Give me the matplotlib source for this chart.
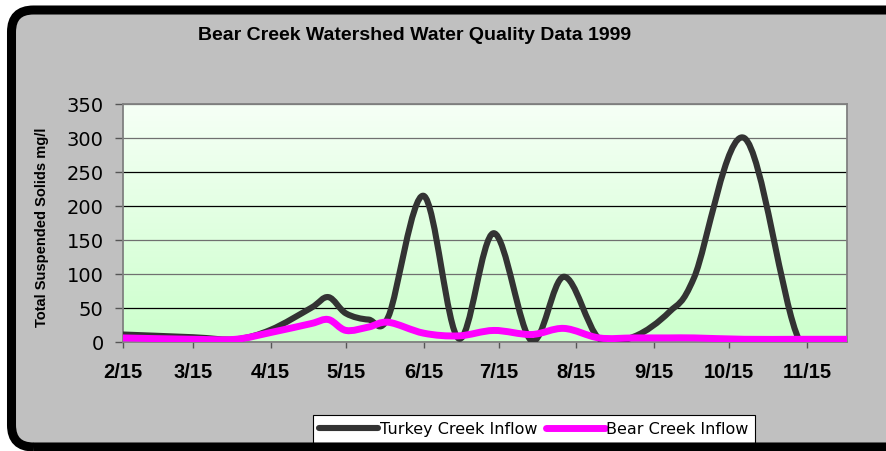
import numpy as np
import pandas as pd
import matplotlib
matplotlib.use('Agg')
import matplotlib.pyplot as plt
from matplotlib.path import Path
from matplotlib.patches import PathPatch, FancyBboxPatch
from matplotlib.lines import Line2D

# sample dates (1999) and total suspended solids, mg/l
dates = ['02-15', '03-15', '04-01', '04-15', '05-01', '05-08', '05-15', '05-24',
         '06-01', '06-15', '06-29', '07-13', '07-28', '08-10', '08-24', '09-07',
         '09-21', '10-01', '10-21', '11-12', '12-01']
turkey = [11, 7, 4, 18, 50, 66, 42, 33, 38, 215, 5, 160, 2, 96, 5, 8, 44, 95, 300, 2, 3]
bear = [6, 4, 4, 14, 27, 33, 17, 22, 29, 13, 9, 17, 11, 20, 6, 6, 6, 6, 4, 4, 4]

tick_dates = ['02-15', '03-15', '04-15', '05-15', '06-15', '07-15', '08-15',
              '09-15', '10-15', '11-15']
tick_labels = ['2/15', '3/15', '4/15', '5/15', '6/15', '7/15', '8/15', '9/15',
               '10/15', '11/15']
y_ticks = [0, 50, 100, 150, 200, 250, 300, 350]

days = pd.to_datetime(['1999-' + d for d in dates]).dayofyear.values.astype(float)
tick_days = pd.to_datetime(['1999-' + d for d in tick_dates]).dayofyear.values


def smooth_path(x, y):
    # catmull-rom style bezier through the points, like excel's smoothed line
    p = np.column_stack([x, y]).astype(float)
    ext = np.vstack([p[0], p, p[-1]])
    verts = [p[0]]
    codes = [Path.MOVETO]
    for i in range(len(p) - 1):
        a, b, c, d = ext[i], ext[i + 1], ext[i + 2], ext[i + 3]
        verts += [b + (c - a) / 6.0, c - (d - b) / 6.0, c]
        codes += [Path.CURVE4] * 3
    return Path(verts, codes)


fig = plt.figure(figsize=(8.86, 4.52), dpi=100)
fig.patch.set_facecolor('white')

# grey card with thick rounded black border (cut off at the right/bottom), in inches
box = dict(boxstyle='round,pad=0,rounding_size=0.22', transform=fig.dpi_scale_trans)
card = FancyBboxPatch((0.115, 0.04), 9.2, 4.37, facecolor='#c0c0c0',
                      edgecolor='none', zorder=-1, **box)
fig.patches.append(card)
border = FancyBboxPatch((0.115, 0.04), 9.2, 4.37, facecolor='none',
                        edgecolor='black', lw=6.5, zorder=10, **box)
fig.patches.append(border)

ax = fig.add_axes([123 / 886, 1 - 343 / 452, (847 - 123) / 886, (343 - 105) / 452])
ax.set_facecolor('none')

grad = np.linspace(1, 0, 256).reshape(-1, 1)
cmap = matplotlib.colors.LinearSegmentedColormap.from_list('g', ['#ccffcc', '#f6fff6'])
ax.imshow(grad, cmap=cmap, aspect='auto', extent=[0, 1, 0, 1],
          transform=ax.transAxes, zorder=0)

ax.add_patch(PathPatch(smooth_path(days, turkey), fill=False, edgecolor='#333333',
                       lw=4.4, capstyle='round', joinstyle='round', zorder=3))
ax.add_patch(PathPatch(smooth_path(days, bear), fill=False, edgecolor='#ff00ff',
                       lw=5.0, capstyle='round', joinstyle='round', zorder=4))

ax.set_xlim(46, 335)
ax.set_ylim(0, 350)

ax.set_yticks(y_ticks)
ax.set_yticklabels([str(v) for v in y_ticks], family='DejaVu Sans', fontsize=14)
ax.set_xticks(tick_days)
ax.set_xticklabels(tick_labels, family='Liberation Sans', fontweight='bold', fontsize=14.5)
ax.tick_params(axis='y', length=6, width=1, color='#555555', pad=8)
ax.tick_params(axis='x', length=4.5, width=1, color='#555555', pad=10)

ax.grid(axis='y', color='black', lw=0.9, zorder=1)
ax.set_axisbelow(True)
for line, v in zip(ax.get_ygridlines(), y_ticks):
    if v in (100, 150, 300, 350):
        line.set_color('#707070')
for s in ax.spines.values():
    s.set_color('#808080')
    s.set_linewidth(1.3)

fig.text(415 / 886, 1 - 36 / 452, 'Bear Creek Watershed Water Quality Data 1999',
         family='Liberation Sans', fontweight='bold', fontsize=14,
         ha='center', va='center')
fig.text(42 / 886, 1 - 227 / 452, 'Total Suspended Solids mg/l', rotation=90,
         family='Liberation Sans', fontweight='bold', fontsize=10.5,
         ha='center', va='center')

handles = [Line2D([], [], color='#333333', lw=4.4, solid_capstyle='round'),
           Line2D([], [], color='#ff00ff', lw=5.0, solid_capstyle='round')]
leg = fig.legend(handles, ['Turkey Creek Inflow', 'Bear Creek Inflow'], ncol=2,
                 loc='upper center', bbox_to_anchor=(534 / 886, 1 - 416 / 452),
                 prop={'family': 'DejaVu Sans', 'size': 11.5}, frameon=True,
                 fancybox=False, framealpha=1, edgecolor='black', borderaxespad=0,
                 handlelength=3.7, handletextpad=0.1, columnspacing=0.5, borderpad=0.4)
leg.get_frame().set_linewidth(0.8)
leg.set_zorder(5)

fig.savefig('out.png', dpi=100)
